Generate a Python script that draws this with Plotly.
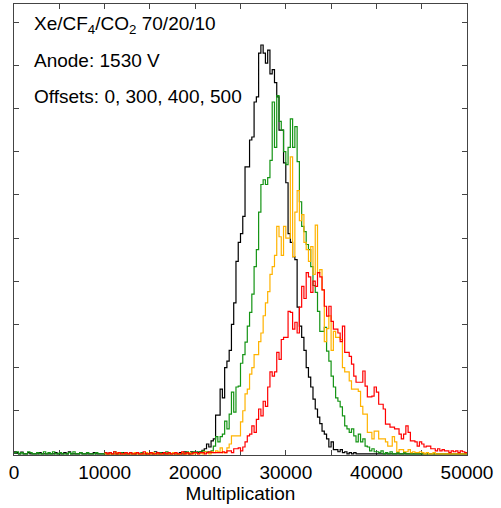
import plotly.graph_objects as go

# ---------------- data ----------------
BIN_WIDTH = 250          # Multiplication units per histogram bin
X_MAX = 50000

# Black (offset 0) and green (offset 300) histograms start at 0
black_start = 0
black_counts = [
    0.5, 0.3, 0, 0.4, 0, 0, 0.3, 0, 0, 0,
    0, 0.3, 0, 0, 0, 0, 0, 0, 0.3, 0,
    0, 0, 0.3, 0, 0.5, 0, 0, 0, 0, 0.3,
    0, 0, 0, 0, 0, 0.3, 0, 0, 0, 0,
    0, 0, 0.3, 0, 0, 0, 0, 0, 0.3, 0,
    0, 0, 0, 0, 0.3, 0, 0, 0, 0, 0,
    0.3, 0, 0.5, 0, 0, 0.3, 0, 0, 0, 0,
    0.3, 0, 0, 0.3, 0, 0.5, 0.3, 0, 0.5, 0.3,
    0.4, 0.3, 0.5, 0.8, 1.2, 2.3, 1.6, 3.0, 3.5, 9.0,
    9.0, 15.0, 13.0, 20.0, 21.5, 24.0, 30.0, 35.0, 44.6, 49.0,
    51.0, 55.0, 66.5, 66.5, 72.7, 73.4, 81.5, 82.7, 92.8, 94.7,
    92.8, 90.5, 93.5, 88.0, 89.0, 86.0, 82.7, 75.0, 75.0, 67.4,
    62.8, 51.0, 49.0, 45.7, 45.0, 34.0, 29.6, 27.0, 24.0, 20.0,
    17.8, 15.5, 12.7, 10.4, 8.5, 7.0, 5.3, 4.6, 3.5, 1.6,
    2.8, 1.0, 1.0, 0.5, 1.0, 0.3, 0.5, 0, 0.3, 0,
    0.3, 0, 0, 0, 0, 0, 0, 0, 0, 0,
    0, 0, 0, 0, 0, 0, 0, 0, 0, 0,
    0, 0, 0, 0, 0, 0, 0, 0, 0, 0,
    0, 0, 0, 0, 0, 0, 0, 0, 0, 0,
    0, 0, 0, 0, 0, 0, 0, 0, 0, 0,
]

green_start = 0
green_counts = [
    0.3, 0.5, 0, 0.3, 0, 0, 0.5, 0.3, 0, 0,
    0.3, 0, 0, 0.5, 0, 0.3, 0, 0.5, 0, 0,
    0.3, 0, 0, 0, 0.3, 0, 0.5, 0, 0, 0.3,
    0, 0, 0.3, 0, 0, 0, 0.3, 0, 0, 0,
    0.3, 0, 0, 0, 0.5, 0, 0, 0.3, 0, 0,
    0, 0.3, 0, 0, 0, 0, 0.3, 0, 0, 0,
    0, 0.3, 0, 0, 0.3, 0, 0, 0.5, 0, 0,
    0.3, 0, 0, 0, 0.3, 0, 0.5, 0, 0.3, 0.5,
    0.3, 0.5, 0.3, 0.7, 0.5, 0.5, 0.3, 0.7, 1.8, 4.0,
    2.8, 4.0, 4.6, 7.6, 5.8, 9.2, 14.3, 9.7, 15.5, 15.7,
    21.0, 23.0, 25.9, 29.6, 32.8, 37.0, 43.4, 47.3, 56.0, 62.4,
    63.5, 62.4, 64.0, 68.0, 81.5, 71.0, 83.0, 77.0, 75.0, 70.0,
    67.0, 71.0, 77.6, 71.0, 75.8, 67.7, 58.4, 52.7, 51.5, 48.5,
    47.3, 43.4, 39.0, 37.4, 33.0, 28.4, 28.4, 29.3, 23.8, 21.5,
    18.0, 15.5, 13.0, 12.2, 10.9, 8.8, 6.5, 5.8, 5.0, 5.8,
    4.2, 2.8, 4.6, 2.8, 3.5, 1.8, 1.6, 0.7, 1.2, 0.5,
    0.5, 0.3, 0.7, 0, 0.3, 0, 0.5, 0, 0, 0.3,
    0, 0, 0.3, 0, 0, 0, 0, 0, 0, 0,
    0, 0, 0, 0, 0, 0, 0, 0, 0, 0,
    0, 0, 0, 0, 0, 0, 0, 0, 0, 0,
]

# Gold (offset 400) and red (offset 500) histograms start at 10000
gold_start = 10000
gold_counts = [
    0, 0, 0, 0, 0, 0.3, 0, 0, 0, 0.3,
    0, 0, 0, 0.3, 0, 0, 0, 0, 0.3, 0,
    0, 0.3, 0, 0, 0, 0, 0.3, 0, 0, 0,
    0.3, 0, 0, 0, 0.3, 0, 0, 0.3, 0, 0,
    0.3, 0, 0.3, 0, 0.5, 0.3, 0, 0.5, 0.3, 0.7,
    0.5, 1.4, 0.3, 0.3, 1.4, 2.3, 4.2, 4.2, 4.2, 4.2,
    7.4, 10.0, 13.9, 15.0, 18.5, 20.0, 23.0, 23.0, 26.0, 28.0,
    32.0, 35.0, 37.6, 41.6, 43.4, 46.0, 52.7, 50.3, 46.0, 52.7,
    50.0, 50.0, 68.8, 45.7, 56.0, 61.0, 54.0, 55.4, 49.0, 47.3,
    44.6, 48.0, 41.6, 53.0, 42.0, 42.7, 38.0, 26.0, 29.0, 32.0,
    24.0, 28.4, 27.0, 27.0, 26.5, 20.0, 19.0, 19.0, 16.9, 15.0,
    15.0, 15.0, 14.5, 11.0, 9.2, 9.2, 5.0, 5.0, 3.5, 5.3,
    5.3, 3.5, 3.5, 3.5, 2.8, 1.8, 1.8, 4.0, 2.8, 0.5,
    1.0, 1.0, 0.5, 0.5, 1.0, 0.3, 0.5, 0.3, 0.3, 0.5,
    0.3, 0, 0.3, 0, 0, 0.3, 0, 0, 0, 0,
    0, 0, 0, 0, 0, 0, 0, 0, 0, 0,
]

red_start = 10000
red_counts = [
    0.3, 0, 0.3, 0, 0.5, 0, 0.3, 0, 0, 0.3,
    0, 0.3, 0, 0, 0.3, 0, 0, 0.5, 0, 0,
    0.3, 0, 0, 0.3, 0, 0, 0.3, 0, 0.3, 0,
    0, 0.3, 0, 0, 0.5, 0, 0.3, 0, 0, 0.3,
    0.3, 0, 0.3, 0.3, 0, 0.3, 0.5, 0.3, 0.3, 0.3,
    0.3, 0.3, 0.5, 0.3, 0.7, 0.7, 0.3, 1.2, 1.2, 1.4,
    0.7, 1.6, 2.8, 4.2, 4.6, 6.5, 5.0, 8.0, 10.4, 8.8,
    12.2, 11.0, 15.5, 19.0, 18.0, 19.0, 23.5, 21.9, 26.5, 27.0,
    27.0, 33.0, 32.8, 28.9, 30.5, 28.0, 34.0, 38.8, 36.0, 42.0,
    41.0, 37.4, 40.0, 38.8, 42.0, 41.0, 38.0, 34.2, 31.9, 34.2,
    30.7, 28.9, 28.9, 28.0, 26.0, 29.6, 23.5, 23.5, 22.6, 20.8,
    18.0, 16.6, 16.6, 16.6, 19.2, 15.7, 13.2, 13.2, 13.4, 15.5,
    14.3, 11.5, 11.5, 10.4, 6.9, 6.9, 6.2, 6.2, 5.8, 5.8,
    4.6, 3.5, 4.6, 6.5, 5.0, 3.0, 3.0, 2.8, 1.8, 2.8,
    2.3, 1.6, 1.8, 1.8, 1.2, 1.2, 0.7, 1.2, 0.7, 1.0,
    0.7, 0.7, 0.3, 0.7, 0.5, 0.7, 0.3, 0.7, 0.5, 0.3,
]

series = [
    ("Offset 0", black_start, black_counts, "#000000"),
    ("Offset 300", green_start, green_counts, "#149414"),
    ("Offset 400", gold_start, gold_counts, "#ffb300"),
    ("Offset 500", red_start, red_counts, "#ff0000"),
]

X_MAJOR_STEP = 10000
X_MINOR_STEP = 5000
Y_TICK_STEP = 10

label_lines = [
    "Xe/CF<sub>4</sub>/CO<sub>2</sub> 70/20/10",
    "Anode: 1530 V",
    "Offsets: 0, 300, 400, 500",
]

# ---------------- figure ----------------
FONT = "Liberation Sans, Arial, Helvetica, sans-serif"
fig = go.Figure()
for name, start, counts, color in series:
    edges = [start + i * BIN_WIDTH for i in range(len(counts) + 1)]
    fig.add_trace(go.Scatter(
        x=edges, y=list(counts) + [counts[-1]],
        mode="lines", line=dict(color=color, width=1.2, shape="hv"),
        name=name, showlegend=False, hoverinfo="skip",
    ))

axis_common = dict(
    showline=True, linecolor="#444444", linewidth=1.3, mirror="ticks",
    ticks="inside", ticklen=5, tickwidth=1.2, tickcolor="#444444",
    showgrid=False, zeroline=False, layer="below traces",
)

fig.update_layout(
    width=501, height=508,
    margin=dict(l=14, r=34, t=4, b=53),
    paper_bgcolor="white", plot_bgcolor="white",
    font=dict(family=FONT, size=19, color="black"),
    xaxis=dict(range=[0, X_MAX], tick0=0, dtick=X_MAJOR_STEP,
               tickformat="d", tickfont=dict(size=19),
               minor=dict(dtick=X_MINOR_STEP, ticks="inside", ticklen=5,
                          tickwidth=1.2, tickcolor="#444444", showgrid=False),
               title=dict(text="Multiplication", font=dict(size=19), standoff=4),
               **axis_common),
    yaxis=dict(range=[-0.25, 104.2], tick0=0, dtick=Y_TICK_STEP,
               showticklabels=False, **axis_common),
)

for k, txt in enumerate(label_lines):
    fig.add_annotation(
        xref="paper", yref="paper", x=0.039, y=0.953 - k * 0.079,
        xanchor="left", yanchor="middle", showarrow=False,
        text=txt, font=dict(size=19, color="black", family=FONT),
    )

fig.write_html("out.html")
